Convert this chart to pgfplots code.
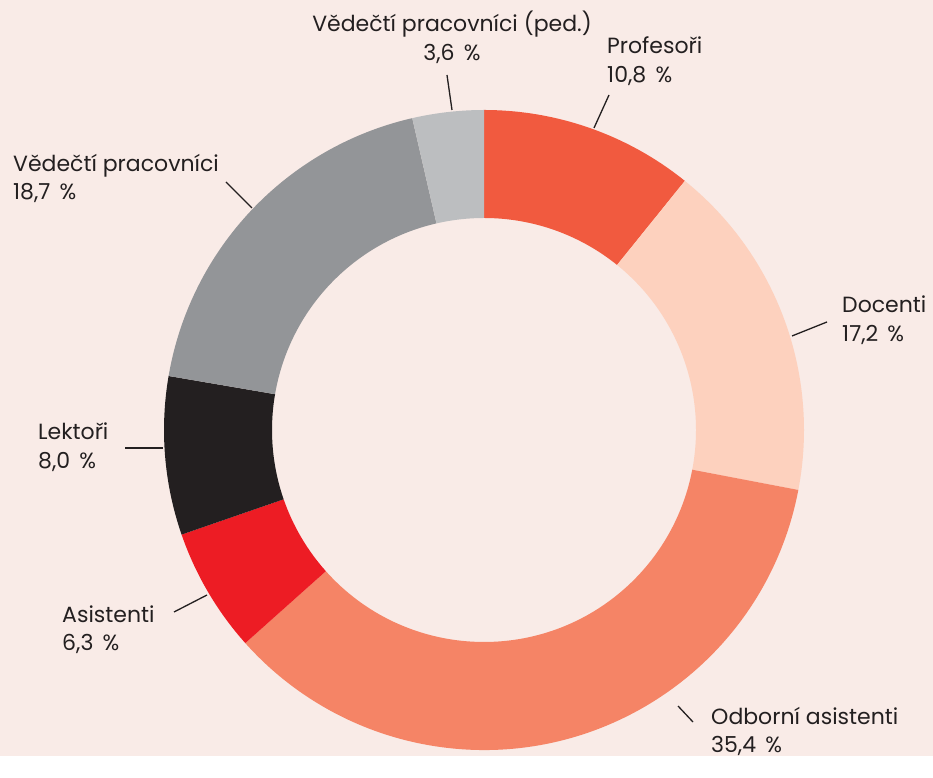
\documentclass[border=0pt]{standalone}
\usepackage{pgfplots}
\pgfplotsset{compat=1.18}
\usepackage{fontspec}
\setmainfont{Poppins}
\definecolor{bg}{HTML}{F9EBE7}
\definecolor{txt}{HTML}{231F20}
\definecolor{cprof}{HTML}{F15A3F}
\definecolor{cdoc}{HTML}{FDD1BE}
\definecolor{codb}{HTML}{F58466}
\definecolor{casi}{HTML}{ED1C24}
\definecolor{clek}{HTML}{231F20}
\definecolor{cvp}{HTML}{939598}
\definecolor{cped}{HTML}{BCBEC0}
\newcommand{\pc}{\hspace{0.42em}\%}
% slice: cumulative start %, cumulative end %, colour
\newcommand{\slice}[3]{%
  \fill[#3] (axis cs:484,326) ++({90-3.6*#1}:320pt)
    arc[start angle={90-3.6*#1}, end angle={90-3.6*#2}, radius=320pt]
    -- ++({90-3.6*#2}:-108pt)
    arc[start angle={90-3.6*#2}, end angle={90-3.6*#1}, radius=212pt] -- cycle;}
\begin{document}
\begin{tikzpicture}
\begin{axis}[hide axis, scale only axis, width=933pt, height=756pt,
  xmin=0, xmax=933, ymin=0, ymax=756, clip=false]
\fill[bg] (axis cs:0,0) rectangle (axis cs:933,756);
% shares: 10.8, 17.2, 35.4, 6.3, 8.0, 18.7, 3.6
\slice{0}{10.8}{cprof}
\slice{10.8}{28.0}{cdoc}
\slice{28.0}{63.4}{codb}
\slice{63.4}{69.7}{casi}
\slice{69.7}{77.7}{clek}
\slice{77.7}{96.4}{cvp}
\slice{96.4}{100}{cped}
\begin{scope}[line width=1.3pt, txt]
\draw (axis cs:452,646) -- (axis cs:447,681);
\draw (axis cs:594,628) -- (axis cs:609,661);
\draw (axis cs:792,420) -- (axis cs:827,434);
\draw (axis cs:678,50) -- (axis cs:693,34);
\draw (axis cs:174,144) -- (axis cs:207,161);
\draw (axis cs:125,308) -- (axis cs:163,308);
\draw (axis cs:226,574) -- (axis cs:252,548);
\end{scope}
\begin{scope}[every node/.style={txt, inner sep=0pt, font=\fontsize{22}{26}\selectfont}]
\node[anchor=base] at (axis cs:452,724) {Vědečtí pracovníci (ped.)};
\node[anchor=base] at (axis cs:452,695) {3,6\pc};
\node[anchor=base west] at (axis cs:607,702) {Profesoři};
\node[anchor=base west] at (axis cs:607,673) {10,8\pc};
\node[anchor=base west] at (axis cs:842,443) {Docenti};
\node[anchor=base west] at (axis cs:842,414) {17,2\pc};
\node[anchor=base west] at (axis cs:711,31) {Odborní asistenti};
\node[anchor=base west] at (axis cs:711,3) {35,4\pc};
\node[anchor=base west] at (axis cs:62,133) {Asistenti};
\node[anchor=base west] at (axis cs:62,105) {6,3\pc};
\node[anchor=base west] at (axis cs:38,316) {Lektoři};
\node[anchor=base west] at (axis cs:38,287) {8,0\pc};
\node[anchor=base west] at (axis cs:13,584) {Vědečtí pracovníci};
\node[anchor=base west] at (axis cs:13,556) {18,7\pc};
\end{scope}
\end{axis}
\end{tikzpicture}
\end{document}
